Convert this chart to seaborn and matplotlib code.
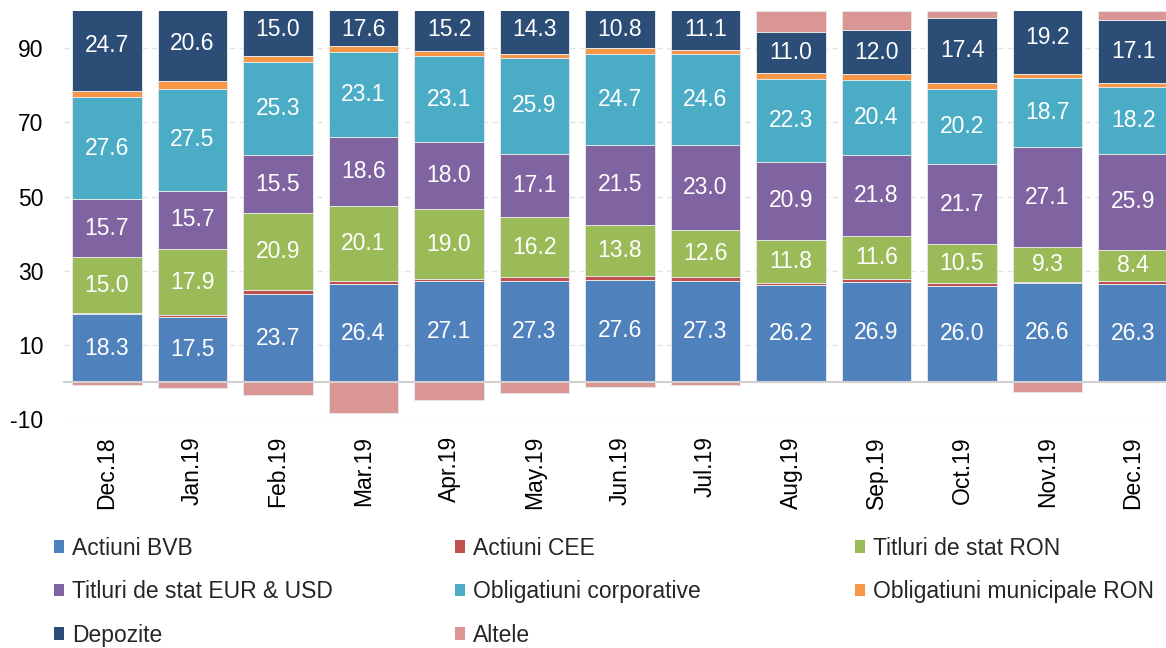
import numpy as np
import matplotlib.pyplot as plt
from matplotlib.patches import Patch
import seaborn as sns

# structura portofoliului, % din activ
months = ['Dec.18', 'Jan.19', 'Feb.19', 'Mar.19', 'Apr.19', 'May.19', 'Jun.19',
          'Jul.19', 'Aug.19', 'Sep.19', 'Oct.19', 'Nov.19', 'Dec.19']
actiuni_bvb = [18.3, 17.5, 23.7, 26.4, 27.1, 27.3, 27.6, 27.3, 26.2, 26.9, 26.0, 26.6, 26.3]
actiuni_cee = [0.3, 0.5, 1.0, 0.9, 0.6, 1.0, 1.0, 1.0, 0.4, 0.8, 0.6, 0.4, 0.9]
titluri_ron = [15.0, 17.9, 20.9, 20.1, 19.0, 16.2, 13.8, 12.6, 11.8, 11.6, 10.5, 9.3, 8.4]
titluri_eur_usd = [15.7, 15.7, 15.5, 18.6, 18.0, 17.1, 21.5, 23.0, 20.9, 21.8, 21.7, 27.1, 25.9]
oblig_corp = [27.6, 27.5, 25.3, 23.1, 23.1, 25.9, 24.7, 24.6, 22.3, 20.4, 20.2, 18.7, 18.2]
oblig_muni = [1.6, 2.0, 1.5, 1.6, 1.5, 1.0, 1.5, 1.0, 1.7, 1.5, 1.7, 1.1, 0.9]
depozite = [24.7, 20.6, 15.0, 17.6, 15.2, 14.3, 10.8, 11.1, 11.0, 12.0, 17.4, 19.2, 17.1]
altele = [-0.7, -1.7, -3.4, -8.5, -4.9, -3.0, -1.3, -0.8, 5.7, 5.0, 2.0, -2.7, 2.3]

# (nume, valori, culoare, cu etichete)
layers = [
    ('Actiuni BVB', actiuni_bvb, '#4F81BD', True),
    ('Actiuni CEE', actiuni_cee, '#C0504D', False),
    ('Titluri de stat RON', titluri_ron, '#9BBB59', True),
    ('Titluri de stat EUR & USD', titluri_eur_usd, '#8064A2', True),
    ('Obligatiuni corporative', oblig_corp, '#4BACC6', True),
    ('Obligatiuni municipale RON', oblig_muni, '#F79646', False),
    ('Depozite', depozite, '#2C4D75', True),
    ('Altele', altele, '#D99694', False),
]

sns.set_style('white')
plt.rcParams['font.family'] = ['Liberation Sans', 'DejaVu Sans']
plt.rcParams['axes.unicode_minus'] = False
fs = 16.5

fig = plt.figure(figsize=(11.66, 6.48), dpi=100)
ax = fig.add_axes([0.0551, 0.3534, 0.9533, 0.6292])

pos = np.zeros(len(months))
for name, vals, color, labelled in layers:
    vals = np.array(vals)
    if name == 'Altele':
        bottom = np.where(vals > 0, pos, 0)
    else:
        bottom = pos.copy()
    sns.barplot(x=months, y=vals, bottom=bottom, color=color, saturation=1,
                width=0.81, errorbar=None, edgecolor='#e6e6e6', linewidth=0.7, ax=ax)
    if labelled:
        # eticheta in mijlocul segmentului, dar in interiorul graficului
        centers = np.minimum(bottom + vals / 2, 95)
        for i, (v, c) in enumerate(zip(vals, centers)):
            ax.text(i, c, f'{v:.1f}', ha='center', va='center', color='white', fontsize=fs)
    if name != 'Altele':
        pos += vals

# axa x la nivelul 0 (inainte de etichete, altfel se reseteaza tick-urile)
for s in ['top', 'right', 'left']:
    ax.spines[s].set_visible(False)
ax.spines['bottom'].set_position(('data', 0))
ax.spines['bottom'].set_color('#d0d0d0')
ax.spines['bottom'].set_linewidth(1.5)
ax.spines['bottom'].set_zorder(5)

ax.set_xlim(-0.5, len(months) - 0.5)
ax.set_ylim(-10, 100)
ax.set_yticks([-10, 10, 30, 50, 70, 90])
ax.set_xticks(range(len(months)))
ax.set_xticklabels(months, rotation=90)
ax.set_xticks(np.arange(-0.5, len(months), 1), minor=True)
ax.set_xlabel('')
ax.set_ylabel('')

ax.yaxis.grid(True, color='#e3e3e3', linestyle=(0, (4, 3)), linewidth=1)
ax.xaxis.grid(False)
ax.set_axisbelow(True)

ax.tick_params(axis='x', which='major', length=0, pad=39, labelsize=fs, labelcolor='black')
ax.tick_params(axis='x', which='minor', length=5.5, width=1.3, color='#d0d0d0', direction='out')
ax.tick_params(axis='y', length=0, pad=15, labelsize=fs, labelcolor='black')

# legenda pe trei coloane
handles = {name: Patch(facecolor=color, edgecolor='none') for name, _, color, _ in layers}
columns = [['Actiuni BVB', 'Titluri de stat EUR & USD', 'Depozite'],
           ['Actiuni CEE', 'Obligatiuni corporative', 'Altele'],
           ['Titluri de stat RON', 'Obligatiuni municipale RON']]
col_x = [54, 455, 855]
for names, x in zip(columns, col_x):
    fig.legend([handles[n] for n in names], names, loc='upper left',
               bbox_to_anchor=(x / 1166, 0.172), frameon=False, fontsize=fs,
               borderpad=0, borderaxespad=0, handlelength=0.45, handleheight=0.45,
               handletextpad=0.35, labelspacing=0.9)

fig.savefig('out.png', dpi=100)
